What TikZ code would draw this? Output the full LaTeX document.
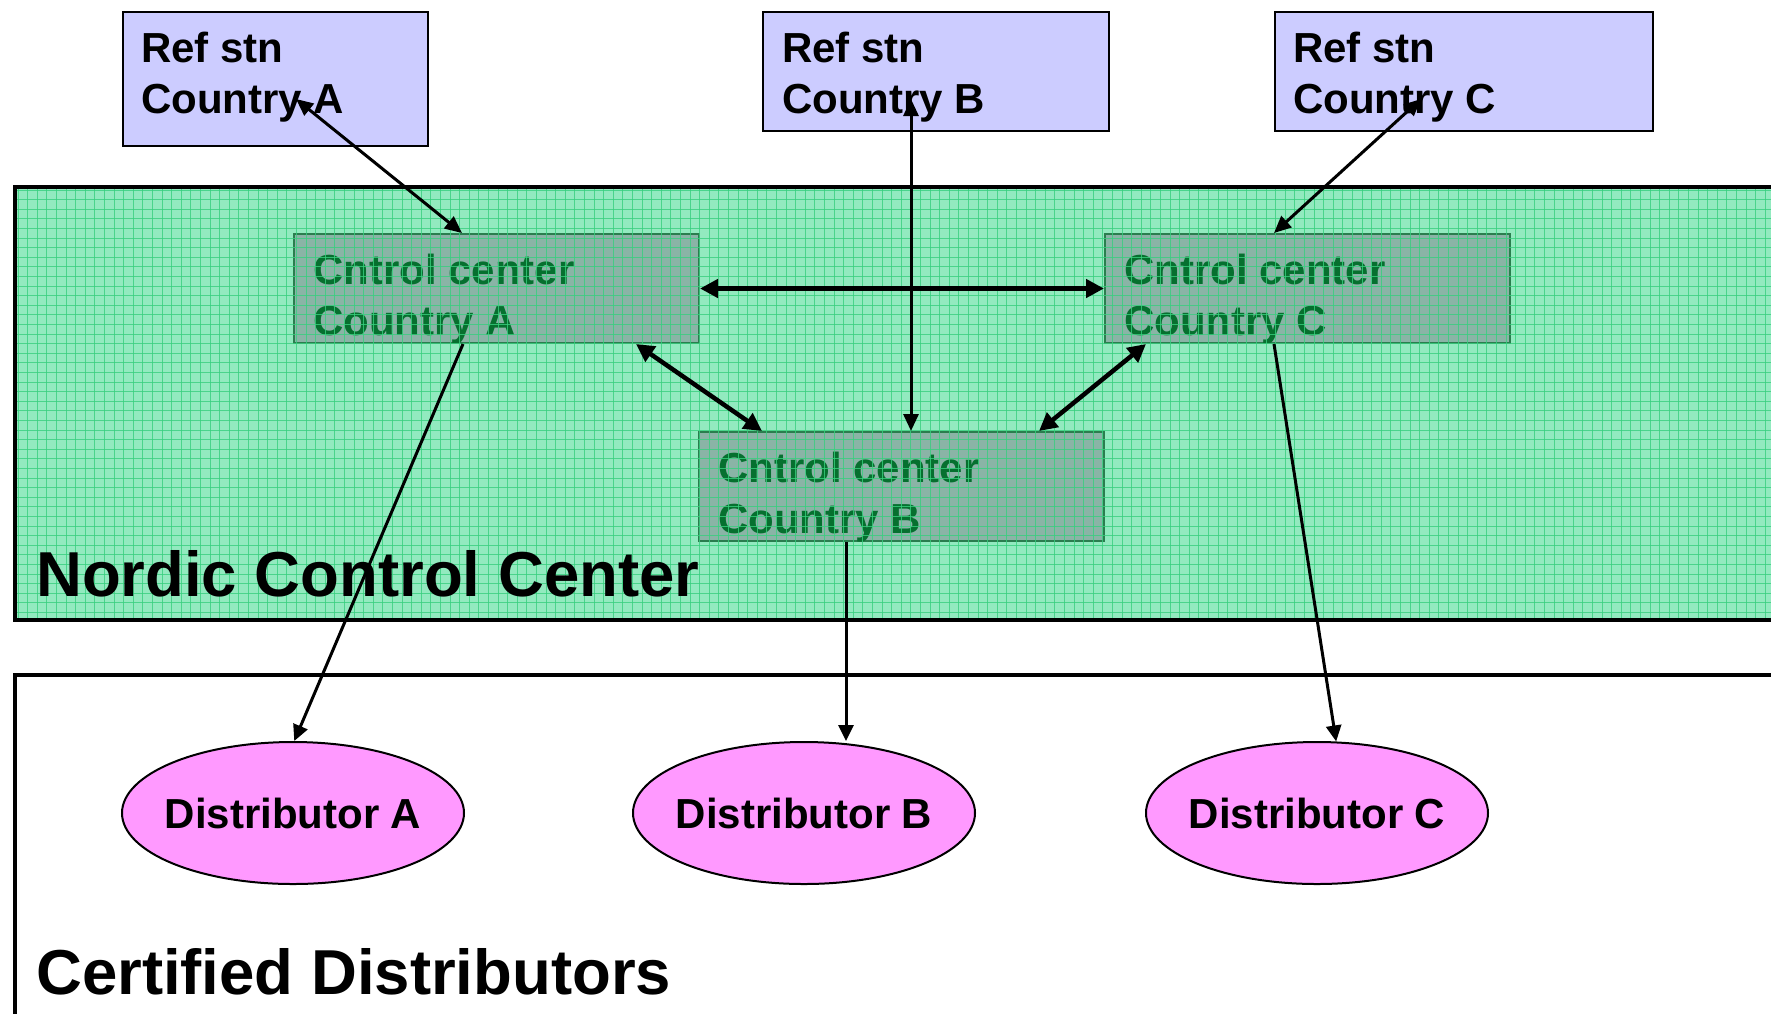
\documentclass[tikz,border=0pt]{standalone}
\usepackage{fontspec}
\setmainfont{Liberation Sans}
\usetikzlibrary{arrows.meta,shapes.geometric,calc}

\definecolor{refblue}{HTML}{CCCCFF}
\definecolor{nordicgreen}{HTML}{92EABF}
\definecolor{gridgreen}{HTML}{38CF7E}
\definecolor{ccfill}{HTML}{8AB4A6}
\definecolor{ccedge}{HTML}{2A7E4E}
\definecolor{cctext}{HTML}{06702F}
\definecolor{distpink}{HTML}{FF99FF}

\begin{document}
\begin{tikzpicture}[x=1pt,y=-1pt,
  refbox/.style={draw=black, line width=1.5pt, fill=refblue, anchor=north west, inner sep=0pt},
  ccbox/.style={draw=ccedge, line width=2pt, fill=ccfill, anchor=north west, inner sep=0pt,
    minimum width=405pt, minimum height=109pt},
  boxtext/.style={anchor=north west, inner sep=0pt, align=left,
    font=\fontsize{42}{51}\selectfont\bfseries},
  cctxt/.style={boxtext, text=cctext},
  distnode/.style={ellipse, draw=black, line width=2pt, fill=distpink, inner sep=0pt,
    minimum width=342pt, minimum height=142pt, font=\fontsize{42}{51}\selectfont\bfseries},
  region/.style={draw=black, line width=4.5pt},
  bigtitle/.style={anchor=base west, inner sep=0pt, font=\fontsize{63.5}{70}\selectfont\bfseries},
  gridline/.style={draw=gridgreen, line width=0.9pt, draw opacity=0.8},
  thinlink/.style={draw=black, line width=3pt},
  thicklink/.style={draw=black, line width=4.5pt},
  bothtips/.style={arrows={Triangle[length=17pt,width=15pt]-Triangle[length=17pt,width=15pt]}},
  bigtips/.style={arrows={Triangle[length=18pt,width=18pt]-Triangle[length=18pt,width=18pt]}},
  endtip/.style={arrows={-Triangle[length=16pt,width=15pt]}}
]
\useasboundingbox (0,0) rectangle (1771,1013);
\fill[white] (0,0) rectangle (1771,1013);

% Nordic control centre region
\fill[nordicgreen] (15,187) rectangle (1795,620);

% Control centres
\node[ccbox] (ccA) at (293,233) {};
\node[ccbox] (ccC) at (1104,233) {};
\node[ccbox] (ccB) at (698,431) {};
\node[cctxt] (ccA-text) at ($(ccA.north west)+(20,16)$) {\rule{0pt}{35pt}Cntrol center\\Country A};
\node[cctxt] (ccC-text) at ($(ccC.north west)+(20,16)$) {\rule{0pt}{35pt}Cntrol center\\Country C};
\node[cctxt] (ccB-text) at ($(ccB.north west)+(20,16)$) {\rule{0pt}{35pt}Cntrol center\\Country B};

% Grid texture over the region
\begin{scope}
  \clip (15,187) rectangle (1795,620);
  \foreach \i in {0,...,186} \draw[gridline] ({18+9.6*\i},187) -- ++(0,433);
  \foreach \j in {0,...,45} \draw[gridline] (15,{190+9.6*\j}) -- ++(1780,0);
\end{scope}
\draw[region] (15,187) rectangle (1795,620);
\node[bigtitle] (nordic) at (36,596) {Nordic Control Center};

% Certified distributors region
\draw[region] (15,675) rectangle (1795,1030);
\node[bigtitle] (certified) at (36,994) {Certified Distributors};

% Reference stations
\node[refbox, minimum width=305pt, minimum height=134pt] (refA) at (122,11) {};
\node[refbox, minimum width=346pt, minimum height=119pt] (refB) at (762,11) {};
\node[refbox, minimum width=378pt, minimum height=119pt] (refC) at (1274,11) {};
\node[boxtext] (refA-text) at ($(refA.north west)+(19,16)$) {\rule{0pt}{35pt}Ref stn\\Country A};
\node[boxtext] (refB-text) at ($(refB.north west)+(20,16)$) {\rule{0pt}{35pt}Ref stn\\Country B};
\node[boxtext] (refC-text) at ($(refC.north west)+(19,16)$) {\rule{0pt}{35pt}Ref stn\\Country C};

% Distributors (text kept zero-width so the ellipse keeps its set size)
\node[distnode] (distA) at (293,813) {\makebox[0pt]{Distributor A}};
\node[distnode] (distB) at (804,813) {\makebox[0pt]{Distributor B}};
\node[distnode] (distC) at (1317,813) {\makebox[0pt]{Distributor C}};

% Connection points
\coordinate (refA-port) at ($(refA.north west)+(174,88)$);
\coordinate (refB-port) at ($(refB.north west)+(149,88)$);
\coordinate (refC-port) at ($(refC.north west)+(147,88)$);
\coordinate (ccA-top) at ($(ccA.north west)+(169,0)$);
\coordinate (ccC-top) at ($(ccC.north west)+(170,0)$);
\coordinate (ccB-top) at ($(ccB.north west)+(213,0)$);
\coordinate (ccA-low) at ($(ccA.south west)+(343,0)$);
\coordinate (ccC-low) at ($(ccC.south west)+(42,0)$);
\coordinate (ccB-left) at ($(ccB.north west)+(64,0)$);
\coordinate (ccB-right) at ($(ccB.north west)+(341,0)$);
\coordinate (ccA-out) at ($(ccA.south west)+(170,0)$);
\coordinate (ccB-out) at ($(ccB.south west)+(148,0)$);
\coordinate (ccC-out) at ($(ccC.south west)+(170,0)$);

% Reference station links
\draw[thinlink, bothtips] (refA-port) -- (ccA-top);
\draw[thinlink, bothtips] (refB-port) -- (ccB-top);
\draw[thinlink, bothtips] (refC-port) -- (ccC-top);

% Links between control centres
\draw[thicklink, bigtips] (ccA.east) -- (ccC.west);
\draw[thicklink, bigtips] (ccA-low) -- (ccB-left);
\draw[thicklink, bigtips] (ccC-low) -- (ccB-right);

% Links to distributors
\draw[thinlink, endtip] (ccA-out) -- (distA.89);
\draw[thinlink, endtip] (ccB-out) -- (ccB-out |- distB.north);
\draw[thinlink, endtip] (ccC-out) -- (distC.75);
\end{tikzpicture}
\end{document}
